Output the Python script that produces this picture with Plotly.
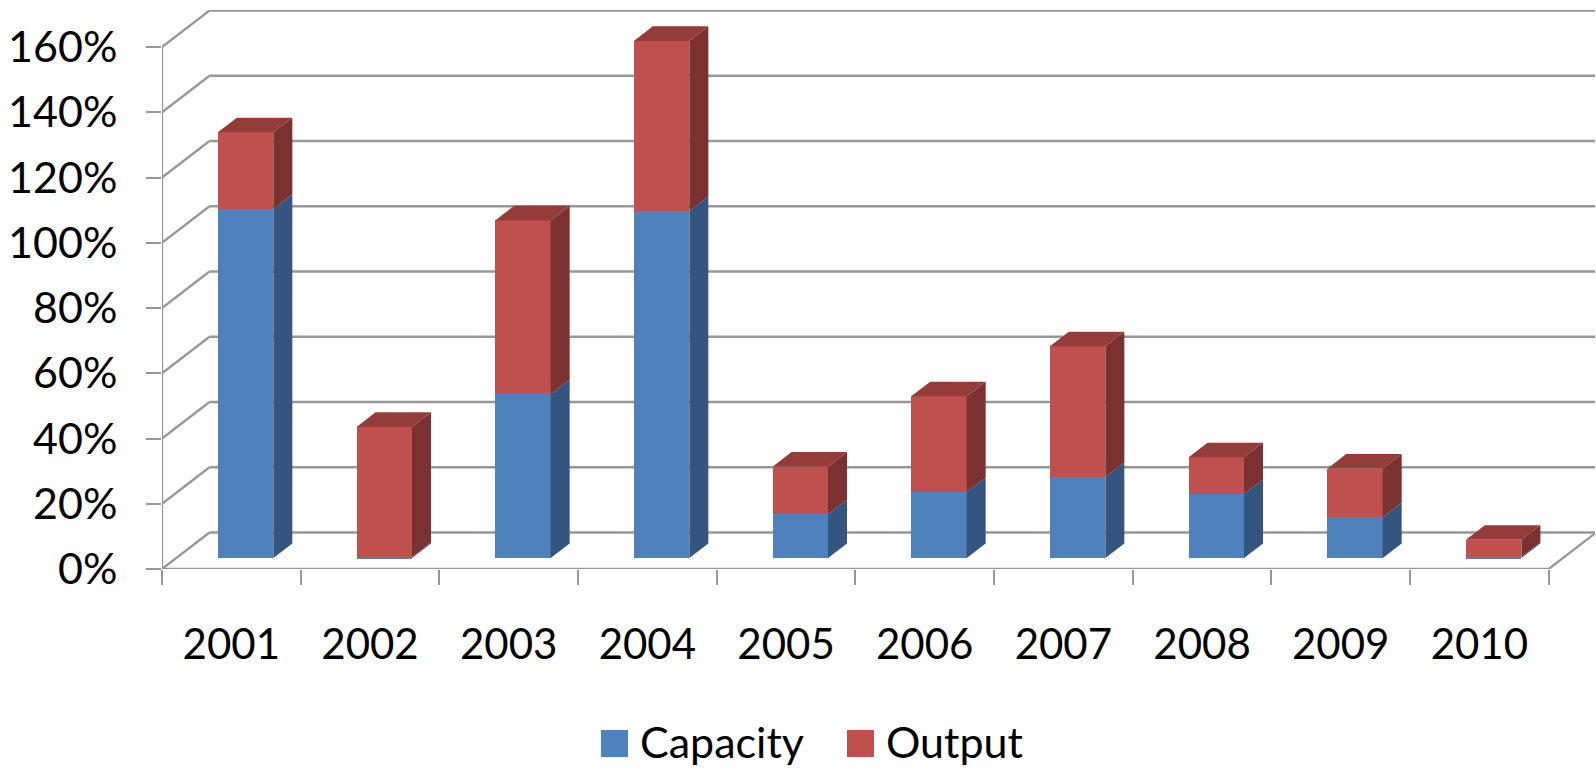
import plotly.graph_objects as go

years = ["2001", "2002", "2003", "2004", "2005", "2006", "2007", "2008", "2009", "2010"]
capacity = [107.0, 0.3, 50.2, 106.4, 13.4, 20.2, 24.9, 19.6, 12.5, 0.3]
output = [23.5, 39.9, 53.3, 52.1, 14.6, 29.4, 40.0, 11.3, 14.9, 5.3]
y_ticks = [0, 20, 40, 60, 80, 100, 120, 140, 160]
y_labels = ["0%", "20%", "40%", "60%", "80%", "100%", "120%", "140%", "160%"]

W, H = 1596, 770
L, R, T, B = 162, 1595, 10, 569
CAT_PX = 138.67
PCT_PX = 3.2625
DX = 47.5 / CAT_PX
DY = 36.5 / PCT_PX
BAR_W = 0.40
BAR_SHIFT = 0.30
BAR_DEPTH = 0.40
N = len(years)

GREY = "#979797"
BLUE, BLUE_SIDE, BLUE_TOP = "#4F81BD", "#34557F", "#3E6391"
RED, RED_SIDE, RED_TOP = "#C0504D", "#7A3130", "#943C3A"
FONT = "Lato, Carlito, sans-serif"
FS = 43

fig = go.Figure()
x_front = [i + 0.5 + BAR_SHIFT * DX for i in range(N)]
base0 = BAR_SHIFT * DY
bases_cap = [base0] * N
bases_out = [base0 + c for c in capacity]

fig.add_bar(x=x_front, y=capacity, base=bases_cap, width=BAR_W, name="Capacity",
            marker=dict(color=BLUE, line_width=0), legend="legend")
fig.add_bar(x=x_front, y=output, base=bases_out, width=BAR_W, name="Output",
            marker=dict(color=RED, line_width=0), legend="legend2")


def poly(xs, ys, color):
    fig.add_scatter(x=xs, y=ys, mode="lines", fill="toself", fillcolor=color,
                    line=dict(width=0, color=color), showlegend=False, hoverinfo="skip")


ddx, ddy = BAR_DEPTH * DX, BAR_DEPTH * DY
for i in range(N):
    xr = x_front[i] + BAR_W / 2
    xl = x_front[i] - BAR_W / 2
    c0, c1 = bases_cap[i], bases_cap[i] + capacity[i]
    o1 = bases_out[i] + output[i]
    poly([xr, xr + ddx, xr + ddx, xr, xr], [c0, c0 + ddy, c1 + ddy, c1, c0], BLUE_SIDE)
    poly([xr, xr + ddx, xr + ddx, xr, xr], [c1, c1 + ddy, o1 + ddy, o1, c1], RED_SIDE)
    poly([xl, xr, xr + ddx, xl + ddx, xl], [o1, o1, o1 + ddy, o1 + ddy, o1], RED_TOP)

x_max = (R - L) / CAT_PX
y_max = (B - T) / PCT_PX


def line(x0, y0, x1, y1):
    return dict(type="line", xref="x", yref="y", x0=x0, y0=y0, x1=x1, y1=y1,
                layer="below", line=dict(color=GREY, width=2.3))


shapes = []
for v in y_ticks:
    shapes.append(line(0, v, DX, v + DY))
    shapes.append(line(DX, v + DY, N + DX, v + DY))
shapes.append(line(0, 0, 0, y_ticks[-1]))
shapes.append(line(0, 0, N, 0))
shapes.append(line(N, 0, N + DX, DY))


def px_x(p):
    return (p - L) / (R - L)


def px_y(p):
    return (B - p) / (B - T)


for x0, color in ((601, BLUE), (847, RED)):
    shapes.append(dict(type="rect", xref="paper", yref="paper",
                       x0=px_x(x0), x1=px_x(x0 + 27), y0=px_y(757), y1=px_y(730),
                       fillcolor=color, line_width=0, layer="above"))

fig.update_layout(
    width=W, height=H, autosize=False,
    margin=dict(l=L, r=W - R, t=T, b=H - B, pad=0, autoexpand=False),
    paper_bgcolor="white", plot_bgcolor="white",
    barmode="overlay", bargap=0,
    font=dict(family=FONT, size=FS, color="black"),
    shapes=shapes,
    showlegend=True,
    legend=dict(x=px_x(600), y=px_y(741), xanchor="left", yanchor="middle",
                orientation="h", bgcolor="rgba(0,0,0,0)", font=dict(size=FS)),
    legend2=dict(x=px_x(846), y=px_y(741), xanchor="left", yanchor="middle",
                 orientation="h", bgcolor="rgba(0,0,0,0)", font=dict(size=FS)),
    xaxis=dict(range=[0, x_max], tickmode="array",
               tickvals=[i + 0.5 for i in range(N)], ticktext=years,
               showgrid=False, zeroline=False, showline=False, ticks="",
               ticklabelstandoff=47, tickfont=dict(size=42),
               minor=dict(tickmode="array", tickvals=list(range(N + 1)), ticks="outside",
                          ticklen=15, tickwidth=2.3, tickcolor=GREY, showgrid=False)),
    yaxis=dict(range=[0, y_max], tickmode="array", tickvals=y_ticks, ticktext=y_labels,
               showgrid=False, zeroline=False, showline=False, ticks="outside",
               ticklen=15, tickwidth=2.3, tickcolor=GREY,
               ticklabelstandoff=20, tickfont=dict(size=FS)),
)

fig.write_html("out.html", config={"displayModeBar": False},
               post_script="document.body.style.margin='0';")
